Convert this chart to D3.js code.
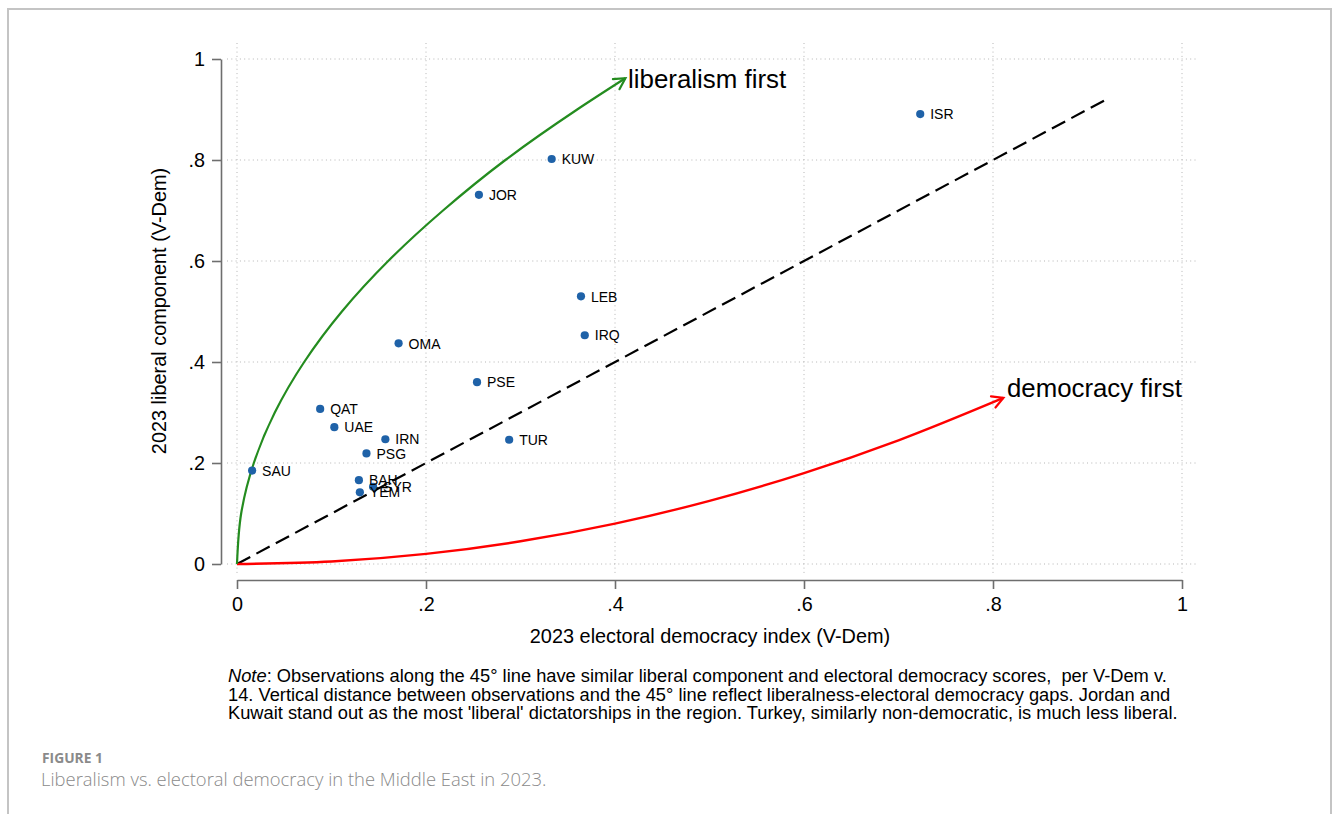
<!DOCTYPE html>
<html>
<head>
<meta charset="utf-8">
<script src="https://cdn.jsdelivr.net/npm/d3@7"></script>
<style>
  html, body { margin: 0; padding: 0; background: #fff; }
  svg { display: block; }
  .chart-text { font-family: "Liberation Sans", Arial, Helvetica, sans-serif; fill: #000; }
</style>
</head>
<body>
<svg id="fig" width="1333" height="814"></svg>
<script>
// Country codes and their 2023 V-Dem scores
const countries = ["ISR","KUW","JOR","LEB","IRQ","OMA","PSE","QAT","UAE","IRN","TUR","PSG","SAU","BAH","SYR","YEM"];
const electoralIndex = [0.723,0.333,0.256,0.364,0.368,0.171,0.254,0.088,0.103,0.157,0.288,0.137,0.016,0.129,0.144,0.130];
const liberalComponent = [0.891,0.802,0.731,0.530,0.453,0.437,0.360,0.307,0.271,0.247,0.246,0.219,0.185,0.166,0.153,0.142];

// Axis ticks
const tickValues = [0, 0.2, 0.4, 0.6, 0.8, 1];
const tickLabels = ["0", ".2", ".4", ".6", ".8", "1"];

// 45-degree reference line
const diagX = [0, 0.922];
const diagY = [0, 0.922];

// "liberalism first" path (electoral, liberal)
const libFirstX = [0, 0.0044, 0.0178, 0.040, 0.0711, 0.111, 0.160, 0.218, 0.284, 0.360, 0.411];
const libFirstY = [0, 0.1, 0.2, 0.3, 0.4, 0.5, 0.6, 0.7, 0.8, 0.9, 0.962];

// "democracy first" path (electoral, liberal)
const demFirstX = [0, 0.1, 0.2, 0.3, 0.4, 0.5, 0.6, 0.7, 0.811];
const demFirstY = [0, 0.005, 0.020, 0.045, 0.080, 0.125, 0.180, 0.245, 0.329];

const noteLines = [
  [{t: "Note", i: true}, {t: ": Observations along the 45\u00B0 line have similar liberal component and electoral democracy scores,\u00A0\u00A0per V-Dem v."}],
  [{t: "14. Vertical distance between observations and the 45\u00B0 line reflect liberalness-electoral democracy gaps. Jordan and"}],
  [{t: "Kuwait stand out as the most 'liberal' dictatorships in the region. Turkey, similarly non-democratic, is much less liberal."}]
];
const figureLabel = "FIGURE 1";
const figureCaption = "Liberalism vs. electoral democracy in the Middle East in 2023.";

const svg = d3.select("#fig");
const W = 1333, H = 814;

// Page frame
svg.append("path")
  .attr("d", `M8,${H} L8,9 L1331,9 L1331,${H}`)
  .attr("fill", "none").attr("stroke", "#c4c4c4").attr("stroke-width", 2);

const x = d3.scaleLinear().domain([0, 1]).range([237, 1182]);
const y = d3.scaleLinear().domain([0, 1]).range([564, 59]);

// Plot region edges for gridlines
const gridLeft = 227, gridRight = 1197, gridTop = 43, gridBottom = 574;

const grid = svg.append("g").attr("stroke", "#b5b5b5").attr("stroke-width", 1)
  .attr("stroke-dasharray", "1,3.3").attr("fill", "none");
grid.selectAll("line.h").data(tickValues).join("line").attr("class", "h")
  .attr("x1", gridLeft).attr("x2", gridRight)
  .attr("y1", d => y(d)).attr("y2", d => y(d));
grid.selectAll("line.v").data(tickValues).join("line").attr("class", "v")
  .attr("y1", gridTop).attr("y2", gridBottom)
  .attr("x1", d => x(d)).attr("x2", d => x(d));

// Axes
const fmt = d => tickLabels[tickValues.indexOf(d)];
const yAxis = svg.append("g").attr("transform", "translate(221,0)")
  .call(d3.axisLeft(y).tickValues(tickValues).tickFormat(fmt).tickSize(9).tickSizeOuter(0).tickPadding(7));
const xAxis = svg.append("g").attr("transform", "translate(0,580)")
  .call(d3.axisBottom(x).tickValues(tickValues).tickFormat(fmt).tickSize(9).tickSizeOuter(0).tickPadding(8));
[xAxis, yAxis].forEach(a => {
  a.select(".domain").attr("stroke", "#6e6e6e").attr("stroke-width", 1.6);
  a.selectAll(".tick line").attr("stroke", "#6e6e6e").attr("stroke-width", 1.6);
  a.selectAll(".tick text").attr("class", "chart-text")
    .style("font-size", "19.8px").attr("fill", "#000");
});

// Axis titles
svg.append("text").attr("class", "chart-text")
  .attr("x", 710).attr("y", 643).attr("text-anchor", "middle")
  .style("font-size", "19.9px")
  .text("2023 electoral democracy index (V-Dem)");
svg.append("text").attr("class", "chart-text")
  .attr("transform", "translate(166,311) rotate(-90)").attr("text-anchor", "middle")
  .style("font-size", "19.9px")
  .text("2023 liberal component (V-Dem)");

// Arrow helper: open V head at end of a path
function arrowHead(g, px, py, color, width) {
  const n = px.length;
  const tx = x(px[n - 1]), ty = y(py[n - 1]);
  const bx = x(px[n - 2]), by = y(py[n - 2]);
  const ang = Math.atan2(ty - by, tx - bx);
  const len = 12.5, spread = 0.5;
  const p1 = [tx - len * Math.cos(ang - spread), ty - len * Math.sin(ang - spread)];
  const p2 = [tx - len * Math.cos(ang + spread), ty - len * Math.sin(ang + spread)];
  g.append("path")
    .attr("d", `M${p1[0]},${p1[1]} L${tx},${ty} L${p2[0]},${p2[1]}`)
    .attr("fill", "none").attr("stroke", color).attr("stroke-width", width)
    .attr("stroke-linecap", "round").attr("stroke-linejoin", "miter");
}

const curves = svg.append("g");

// 45-degree dashed line
curves.append("path")
  .datum(d3.zip(diagX, diagY))
  .attr("d", d3.line().x(d => x(d[0])).y(d => y(d[1])))
  .attr("fill", "none").attr("stroke", "#000").attr("stroke-width", 2.2)
  .attr("stroke-dasharray", "15,7");

// democracy first
curves.append("path")
  .datum(d3.zip(demFirstX, demFirstY))
  .attr("d", d3.line().x(d => x(d[0])).y(d => y(d[1])).curve(d3.curveMonotoneX))
  .attr("fill", "none").attr("stroke", "#ff0000").attr("stroke-width", 2.4);
arrowHead(curves, demFirstX, demFirstY, "#ff0000", 2.2);

// liberalism first
curves.append("path")
  .datum(d3.zip(libFirstX, libFirstY))
  .attr("d", d3.line().x(d => x(d[0])).y(d => y(d[1])).curve(d3.curveMonotoneY))
  .attr("fill", "none").attr("stroke", "#248c1f").attr("stroke-width", 2.2);
arrowHead(curves, libFirstX, libFirstY, "#248c1f", 2.2);

// Curve labels
svg.append("text").attr("class", "chart-text")
  .attr("x", 628).attr("y", 88).style("font-size", "25.9px").text("liberalism first");
svg.append("text").attr("class", "chart-text")
  .attr("x", 1007).attr("y", 397).style("font-size", "25.8px").text("democracy first");

// Country markers and labels
const pts = countries.map((c, i) => ({c, ex: electoralIndex[i], lc: liberalComponent[i]}));
const ptG = svg.append("g");
ptG.selectAll("circle").data(pts).join("circle")
  .attr("cx", d => x(d.ex)).attr("cy", d => y(d.lc)).attr("r", 4.1)
  .attr("fill", "#1f62a8");
ptG.selectAll("text").data(pts).join("text").attr("class", "chart-text")
  .attr("x", d => x(d.ex) + 10).attr("y", d => y(d.lc) + 5.2)
  .style("font-size", "14px").text(d => d.c);

// Note beneath the chart
const note = svg.append("text").attr("class", "chart-text").style("font-size", "18.3px");
noteLines.forEach((line, li) => {
  line.forEach((seg, si) => {
    const ts = note.append("tspan").text(seg.t);
    if (si === 0) ts.attr("x", 228).attr("y", 682 + li * 18.5);
    if (seg.i) ts.style("font-style", "italic");
  });
});

// Figure caption
svg.append("text")
  .attr("x", 42).attr("y", 763)
  .style("font-family", "'Open Sans', 'Noto Sans', sans-serif")
  .style("font-size", "13.8px").style("font-weight", 700).attr("fill", "#8a8a8a")
  .text(figureLabel);
svg.append("text")
  .attr("x", 41).attr("y", 786)
  .style("font-family", "'Open Sans', 'Noto Sans', sans-serif")
  .style("font-size", "18.4px").style("font-weight", 300).attr("fill", "#8a8a8a")
  .text(figureCaption);
</script>
</body>
</html>
